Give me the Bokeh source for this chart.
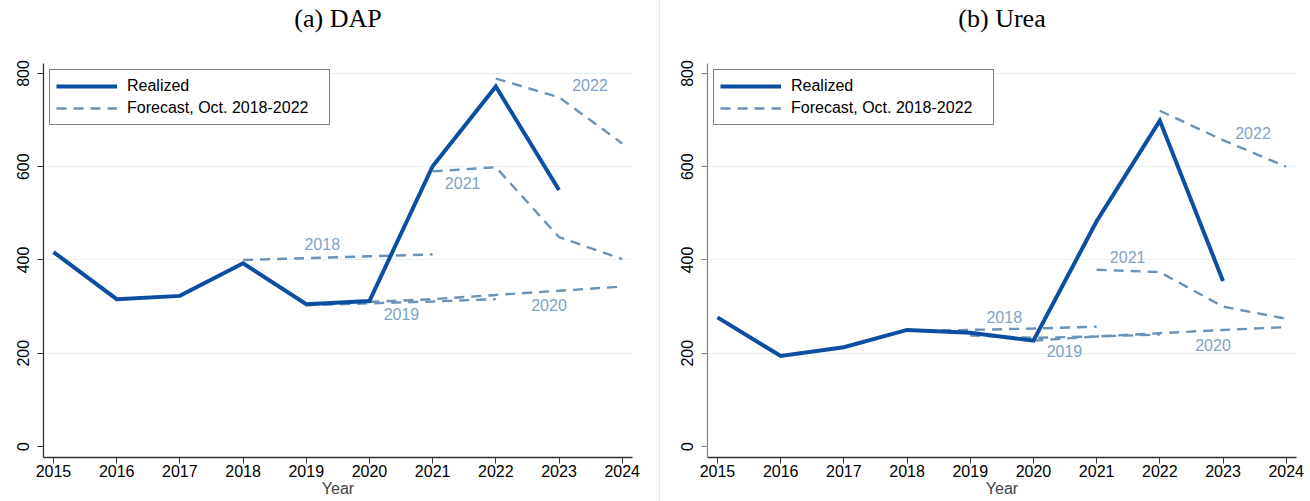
from bokeh.plotting import figure
from bokeh.layouts import row
from bokeh.models import Legend, LegendItem, FixedTicker, Range1d, ColumnDataSource, Div, Title
from bokeh.embed import file_html
from bokeh.resources import INLINE
from bokeh.core.properties import value

# ---------------- data ----------------
YEARS = list(range(2015, 2025))
Y_TICKS = [0, 200, 400, 600, 800]
GRID_TICKS = [200, 400, 600, 800]
TITLES = ["(a) DAP", "(b) Urea"]
X_LABEL = "Year"
LEGEND_LABELS = ["Realized", "Forecast, Oct. 2018-2022"]

realized_years = [2015, 2016, 2017, 2018, 2019, 2020, 2021, 2022, 2023]
dap_realized = [417, 316, 323, 393, 305, 312, 601, 772, 550]
urea_realized = [277, 194, 213, 250, 244, 227, 483, 699, 355]

vintages = ["2018", "2019", "2020", "2021", "2022"]
fc_years_2018 = [2018, 2019, 2020, 2021]
fc_years_2019 = [2019, 2020, 2021, 2022]
fc_years_2020 = [2020, 2021, 2022, 2023, 2024]
fc_years_2021 = [2021, 2022, 2023, 2024]
fc_years_2022 = [2022, 2023, 2024]

dap_fc_2018 = [400, 404, 408, 412]
dap_fc_2019 = [303, 307, 311, 316]
dap_fc_2020 = [310, 316, 325, 334, 343]
dap_fc_2021 = [590, 599, 449, 402]
dap_fc_2022 = [789, 749, 650]

urea_fc_2018 = [248, 250, 253, 257]
urea_fc_2019 = [238, 233, 236, 240]
urea_fc_2020 = [227, 236, 243, 250, 256]
urea_fc_2021 = [379, 374, 300, 274]
urea_fc_2022 = [720, 657, 600]

# ---------------- styling / placement ----------------
REAL_COLOR = "#0b4ea2"
FC_COLOR = "#6b93b6"
LBL_COLOR = "#7ea3c7"
GRID_COLOR = "#e8eff1"
FONT = "Liberation Sans"

# label anchor index within each vintage series and pixel offsets
dap_lbl_idx = [1, 1, 3, 0, 1]
dap_lbl_dx = [16, 32, -10, 30, 31]
dap_lbl_dy = [-14, 11, 14, 12, -12]
urea_lbl_idx = [1, 1, 3, 0, 1]
urea_lbl_dx = [34, 31, -10, 31, 30]
urea_lbl_dy = [-13, 13, 15, -13, -7]

fc_years = [fc_years_2018, fc_years_2019, fc_years_2020, fc_years_2021, fc_years_2022]


def make_panel(title, realized, forecasts, lbl_idx, lbl_dx, lbl_dy, width, bl, br, yaxis_color):
    p = figure(width=width, height=501, output_backend="svg", toolbar_location=None,
               min_border_left=bl, min_border_right=br, min_border_top=63, min_border_bottom=44,
               x_range=Range1d(2014.842, 2024.163), y_range=Range1d(-23.6, 821.4),
               background_fill_color="white", border_fill_color="white")
    p.outline_line_color = None
    p.title.text = title
    p.title.align = "center"
    p.title.vertical_align = "middle"
    p.title.text_font = "Liberation Serif"
    p.title.text_font_style = "normal"
    p.title.text_font_size = "26px"
    p.title.text_color = "black"
    p.title.standoff = 0
    # spacer between title and plot area
    p.add_layout(Title(text=" ", text_font_size="1px", standoff=27), "above")

    p.xgrid.visible = False
    p.ygrid.ticker = FixedTicker(ticks=GRID_TICKS)
    p.ygrid.grid_line_color = GRID_COLOR
    p.ygrid.grid_line_width = 1.2

    xa = p.xaxis[0]
    xa.ticker = FixedTicker(ticks=YEARS)
    xa.axis_label = X_LABEL
    xa.axis_label_text_font = FONT
    xa.axis_label_text_font_style = "normal"
    xa.axis_label_text_font_size = "16px"
    xa.axis_label_standoff = 0
    xa.major_label_text_font = FONT
    xa.major_label_text_font_size = "16px"
    xa.major_label_standoff = 1
    xa.major_tick_out = 6
    xa.major_tick_in = 0
    xa.minor_tick_line_color = None
    xa.axis_line_color = "#333333"
    xa.major_tick_line_color = "#333333"
    xa.axis_line_width = 1.3
    xa.major_label_text_color = "black"

    ya = p.yaxis[0]
    ya.ticker = FixedTicker(ticks=Y_TICKS)
    ya.major_label_orientation = "vertical"
    ya.major_label_text_font = FONT
    ya.major_label_text_font_size = "16px"
    ya.major_label_standoff = 8
    ya.major_tick_out = 6
    ya.major_tick_in = 0
    ya.minor_tick_line_color = None
    ya.axis_line_color = yaxis_color
    ya.major_tick_line_color = yaxis_color
    ya.axis_line_width = 1.3
    ya.major_label_text_color = "black"

    fc_renderers = []
    for yrs, vals in zip(fc_years, forecasts):
        r = p.line(yrs, vals, line_color=FC_COLOR, line_width=2.4, line_dash="10 7")
        fc_renderers.append(r)

    real_r = p.line(realized_years, realized, line_color=REAL_COLOR, line_width=4, line_join="miter")

    lx = [fc_years[i][k] for i, k in enumerate(lbl_idx)]
    ly = [forecasts[i][k] for i, k in enumerate(lbl_idx)]
    src = ColumnDataSource(dict(x=lx, y=ly, t=vintages, dx=lbl_dx, dy=lbl_dy))
    p.text(x="x", y="y", text="t", x_offset="dx", y_offset="dy", source=src,
           text_font=value(FONT), text_font_size="16px", text_color=LBL_COLOR,
           text_align="center", text_baseline="middle")

    legend = Legend(items=[LegendItem(label=LEGEND_LABELS[0], renderers=[real_r]),
                           LegendItem(label=LEGEND_LABELS[1], renderers=[fc_renderers[0]])],
                    location="top_left")
    legend.margin = 6
    legend.padding = 6
    legend.spacing = 2
    legend.glyph_width = 61
    legend.glyph_height = 20
    legend.label_height = 20
    legend.label_width = 196
    legend.label_standoff = 10
    legend.label_text_font = FONT
    legend.label_text_font_size = "16px"
    legend.label_text_color = "black"
    legend.border_line_color = "black"
    legend.border_line_width = 1
    legend.background_fill_color = "white"
    legend.background_fill_alpha = 1
    p.add_layout(legend)
    return p


p1 = make_panel(TITLES[0], dap_realized,
                [dap_fc_2018, dap_fc_2019, dap_fc_2020, dap_fc_2021, dap_fc_2022],
                dap_lbl_idx, dap_lbl_dx, dap_lbl_dy, 659, 43, 27, "#333333")
divider = Div(width=1, height=501, margin=0, styles={"background-color": "#e3eaec"})
p2 = make_panel(TITLES[1], urea_realized,
                [urea_fc_2018, urea_fc_2019, urea_fc_2020, urea_fc_2021, urea_fc_2022],
                urea_lbl_idx, urea_lbl_dx, urea_lbl_dy, 650, 47, 14, "#888888")

layout = row(p1, divider, p2, spacing=0)
open("out.html", "w").write(file_html(layout, INLINE))
